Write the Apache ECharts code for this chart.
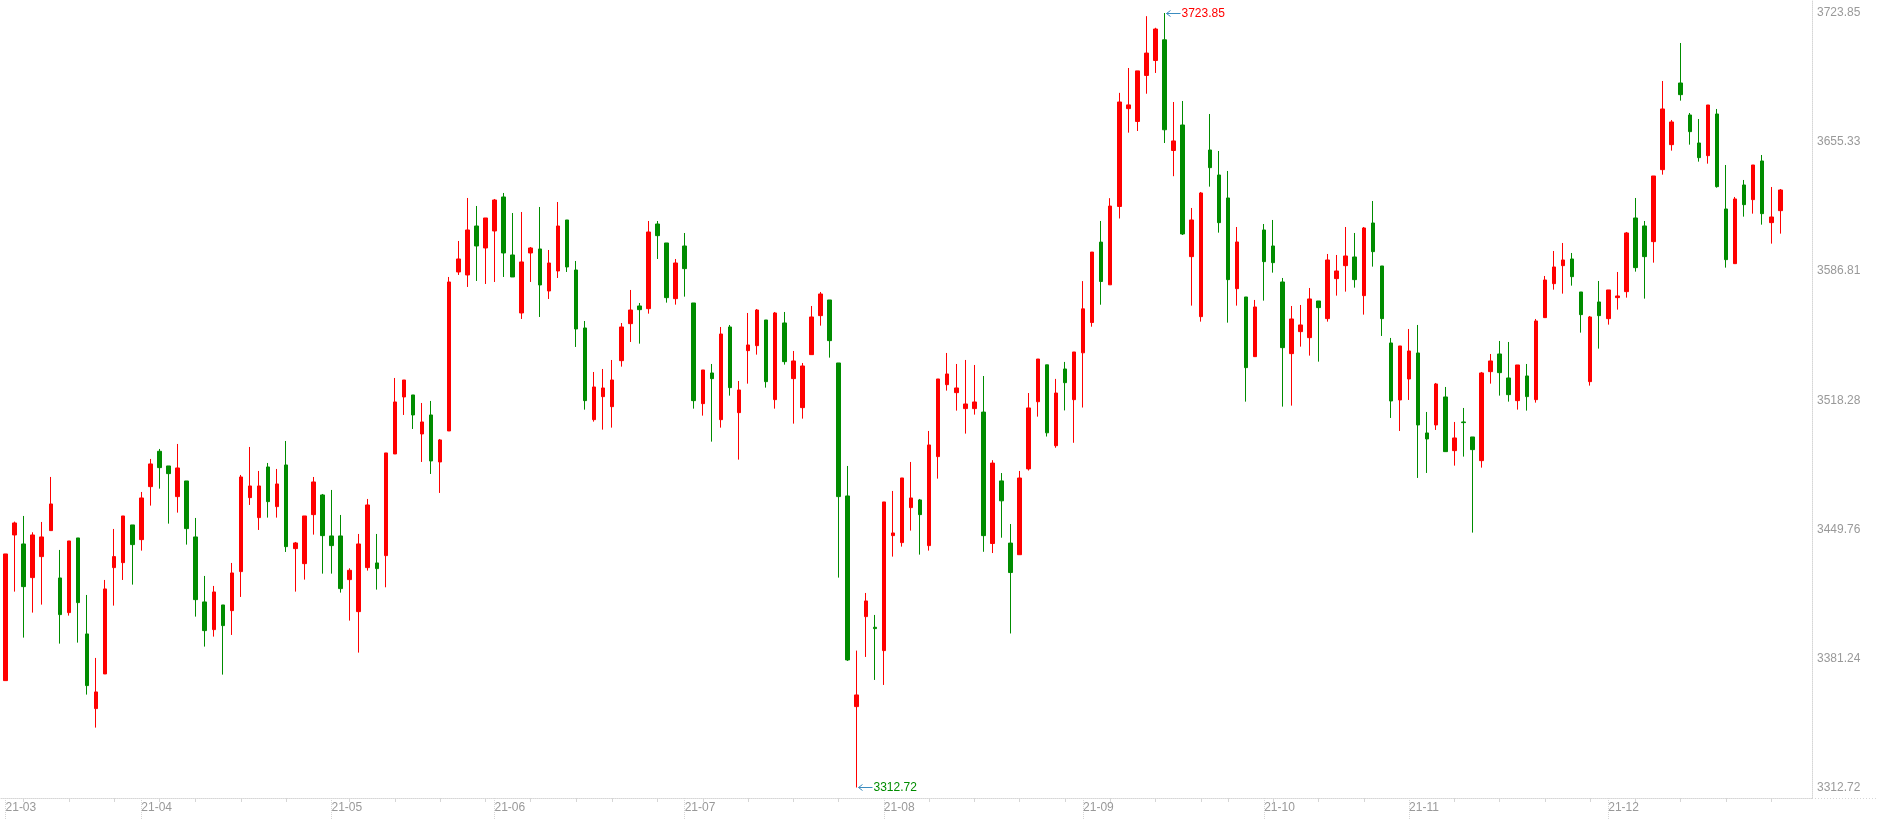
<!DOCTYPE html>
<html>
<head>
<meta charset="utf-8">
<style>
html,body{margin:0;padding:0;background:#fff;}
#chart{width:1877px;height:820px;}
</style>
<script src="https://cdn.jsdelivr.net/npm/echarts@6/dist/echarts.min.js"></script>
</head>
<body>
<div id="chart"></div>
<script>
const dates = [
"2021-03-11","2021-03-12","2021-03-15","2021-03-16","2021-03-17","2021-03-18","2021-03-19","2021-03-22","2021-03-23","2021-03-24","2021-03-25","2021-03-26","2021-03-29","2021-03-30","2021-03-31",
"2021-04-01","2021-04-02","2021-04-06","2021-04-07","2021-04-08","2021-04-09","2021-04-12","2021-04-13","2021-04-14","2021-04-15","2021-04-16","2021-04-19","2021-04-20","2021-04-21","2021-04-22","2021-04-23","2021-04-26","2021-04-27","2021-04-28","2021-04-29","2021-04-30",
"2021-05-06","2021-05-07","2021-05-10","2021-05-11","2021-05-12","2021-05-13","2021-05-14","2021-05-17","2021-05-18","2021-05-19","2021-05-20","2021-05-21","2021-05-24","2021-05-25","2021-05-26","2021-05-27","2021-05-28","2021-05-31",
"2021-06-01","2021-06-02","2021-06-03","2021-06-04","2021-06-07","2021-06-08","2021-06-09","2021-06-10","2021-06-11","2021-06-15","2021-06-16","2021-06-17","2021-06-18","2021-06-21","2021-06-22","2021-06-23","2021-06-24","2021-06-25","2021-06-28","2021-06-29","2021-06-30",
"2021-07-01","2021-07-02","2021-07-05","2021-07-06","2021-07-07","2021-07-08","2021-07-09","2021-07-12","2021-07-13","2021-07-14","2021-07-15","2021-07-16","2021-07-19","2021-07-20","2021-07-21","2021-07-22","2021-07-23","2021-07-26","2021-07-27","2021-07-28","2021-07-29","2021-07-30",
"2021-08-02","2021-08-03","2021-08-04","2021-08-05","2021-08-06","2021-08-09","2021-08-10","2021-08-11","2021-08-12","2021-08-13","2021-08-16","2021-08-17","2021-08-18","2021-08-19","2021-08-20","2021-08-23","2021-08-24","2021-08-25","2021-08-26","2021-08-27","2021-08-30","2021-08-31",
"2021-09-01","2021-09-02","2021-09-03","2021-09-06","2021-09-07","2021-09-08","2021-09-09","2021-09-10","2021-09-13","2021-09-14","2021-09-15","2021-09-16","2021-09-17","2021-09-22","2021-09-23","2021-09-24","2021-09-27","2021-09-28","2021-09-29","2021-09-30",
"2021-10-08","2021-10-11","2021-10-12","2021-10-13","2021-10-14","2021-10-15","2021-10-18","2021-10-19","2021-10-20","2021-10-21","2021-10-22","2021-10-25","2021-10-26","2021-10-27","2021-10-28","2021-10-29",
"2021-11-01","2021-11-02","2021-11-03","2021-11-04","2021-11-05","2021-11-08","2021-11-09","2021-11-10","2021-11-11","2021-11-12","2021-11-15","2021-11-16","2021-11-17","2021-11-18","2021-11-19","2021-11-22","2021-11-23","2021-11-24","2021-11-25","2021-11-26","2021-11-29","2021-11-30",
"2021-12-01","2021-12-02","2021-12-03","2021-12-06","2021-12-07","2021-12-08","2021-12-09","2021-12-10","2021-12-13","2021-12-14","2021-12-15","2021-12-16","2021-12-17","2021-12-20","2021-12-21","2021-12-22","2021-12-23","2021-12-24","2021-12-27","2021-12-28","2021-12-29","2021-12-30","2021-12-31"
];

const opens = [
3369.46,3446.78,3442.00,3424.13,3435.28,3449.08,3423.95,3405.55,3445.19,3394.23,3354.60,3373.00,3429.44,3432.09,3452.09,
3444.30,3472.43,3491.19,3483.40,3467.13,3475.44,3445.72,3411.22,3396.53,3409.62,3406.61,3427.32,3466.59,3455.98,3482.87,3461.82,3483.93,3439.52,3431.56,3457.57,3468.01,
3446.25,3446.25,3423.07,3406.08,3429.44,3431.92,3435.81,3489.77,3520.03,3521.09,3500.39,3510.48,3485.53,3501.98,3586.38,3584.79,3610.79,3599.12,
3608.14,3626.19,3595.40,3564.61,3596.46,3598.59,3576.29,3586.91,3613.98,3587.44,3556.65,3507.99,3520.20,3514.89,3539.31,3558.95,3568.33,3566.91,3611.85,3601.77,3572.22,
3600.17,3569.92,3516.49,3532.76,3507.99,3557.18,3511.71,3544.62,3547.27,3560.90,3518.61,3559.31,3529.76,3514.37,3542.50,3563.20,3571.51,3538.07,3467.48,3355.66,3403.43,3397.77,
3385.39,3446.43,3442.71,3461.29,3465.36,3441.12,3488.36,3526.57,3522.33,3513.84,3513.84,3512.00,3442.24,3475.47,3442.46,3436.30,3481.85,3517.50,3537.09,3494.17,3534.89,3518.60,
3543.47,3559.54,3602.23,3579.56,3621.15,3673.09,3666.27,3690.70,3698.62,3709.62,3650.86,3664.40,3594.52,3562.67,3651.13,3637.86,3625.66,3577.53,3573.11,3541.44,
3608.67,3600.18,3581.07,3543.03,3554.71,3551.52,3570.98,3561.61,3582.84,3589.74,3594.34,3573.82,3612.38,3589.56,3548.69,3518.44,
3529.58,3543.38,3500.92,3505.17,3520.03,3491.54,3506.76,3498.80,3486.23,3533.48,3542.85,3530.11,3518.08,3531.18,3518.61,3562.14,3580.18,3589.74,3593.28,3575.76,3528.17,3570.46,
3561.61,3572.76,3575.94,3615.04,3610.80,3602.48,3640.70,3653.97,3686.70,3669.71,3654.85,3648.13,3670.24,3619.82,3590.80,3632.56,3624.77,3645.30,3612.57,3618.93
];
const closes = [
3436.69,3453.15,3419.35,3446.78,3445.72,3463.23,3404.49,3443.59,3410.86,3366.81,3363.45,3418.12,3435.28,3456.86,3441.65,
3466.42,3484.47,3482.52,3479.33,3482.34,3450.14,3412.45,3396.00,3416.52,3398.65,3426.61,3477.56,3472.79,3472.79,3464.47,3473.85,3440.58,3442.53,3456.86,3474.91,3446.42,
3441.12,3418.29,3428.02,3442.00,3462.70,3428.91,3490.31,3517.38,3529.05,3510.48,3506.76,3486.06,3497.21,3581.07,3593.28,3608.67,3600.18,3615.04,
3624.59,3596.46,3583.72,3591.69,3599.12,3579.48,3591.15,3610.79,3589.03,3556.12,3518.08,3525.33,3524.80,3529.05,3557.18,3566.20,3566.38,3607.60,3605.66,3572.75,3591.15,
3588.14,3518.08,3534.36,3529.76,3553.46,3524.98,3523.74,3547.63,3566.20,3528.16,3564.61,3538.78,3539.14,3536.48,3562.49,3574.70,3549.93,3467.13,3380.43,3361.85,3411.75,3397.06,
3464.30,3447.84,3477.03,3466.42,3457.57,3494.55,3529.58,3532.24,3524.81,3516.31,3517.37,3446.42,3484.93,3464.90,3426.83,3477.01,3514.20,3540.17,3501.00,3522.12,3527.62,3543.91,
3566.80,3596.95,3581.32,3621.37,3676.61,3675.07,3693.12,3702.58,3715.35,3661.87,3655.93,3606.55,3613.98,3628.31,3641.76,3612.56,3582.31,3602.30,3535.60,3567.80,
3591.86,3591.33,3546.21,3561.43,3558.25,3572.05,3567.45,3592.75,3586.91,3594.87,3582.31,3609.73,3597.17,3561.61,3517.90,3547.10,
3544.44,3505.17,3497.74,3526.93,3491.01,3498.27,3506.41,3492.07,3532.77,3539.14,3532.94,3521.27,3537.01,3520.21,3560.37,3582.13,3589.03,3592.75,3583.90,3563.73,3562.49,3563.20,
3576.83,3573.64,3607.08,3588.68,3594.52,3637.34,3672.90,3666.00,3680.51,3660.87,3647.07,3675.02,3631.67,3592.93,3625.13,3622.12,3643.17,3617.34,3615.57,3629.90
];
const lows = [
3369.46,3416.70,3392.28,3405.55,3409.80,3449.08,3389.10,3403.96,3389.63,3362.03,3344.51,3373.00,3409.27,3422.89,3420.42,
3438.46,3462.35,3471.37,3452.79,3458.63,3441.65,3403.43,3387.51,3392.81,3372.64,3393.70,3413.87,3462.70,3449.43,3455.98,3455.98,3437.75,3416.70,3423.07,3446.95,3426.25,
3426.25,3416.17,3401.31,3384.32,3427.85,3417.76,3419.00,3489.77,3510.48,3503.04,3485.53,3479.16,3469.08,3501.98,3584.79,3578.42,3581.60,3580.01,
3581.07,3583.72,3583.72,3561.43,3581.07,3562.49,3572.05,3583.19,3586.38,3546.57,3513.30,3506.93,3502.69,3503.75,3536.13,3549.22,3548.33,3564.26,3593.27,3570.10,3569.03,
3573.28,3513.83,3510.12,3496.32,3503.75,3520.73,3486.76,3527.10,3542.50,3524.98,3513.83,3537.19,3505.87,3508.53,3542.50,3557.89,3540.91,3424.13,3379.90,3312.72,3382.02,3369.82,
3367.16,3435.28,3440.59,3449.08,3436.34,3438.46,3476.68,3523.39,3512.77,3500.57,3510.65,3437.84,3437.18,3445.32,3394.48,3436.30,3480.97,3509.58,3499.02,3493.07,3512.88,3495.71,
3514.42,3557.33,3569.00,3579.56,3614.77,3660.33,3661.21,3681.01,3692.02,3654.83,3637.22,3606.02,3568.51,3560.02,3631.67,3607.25,3559.48,3568.51,3517.55,3541.44,
3571.16,3586.02,3514.90,3515.43,3546.75,3541.97,3538.78,3560.02,3573.82,3575.94,3578.06,3563.73,3589.21,3552.41,3508.88,3501.98,
3518.44,3477.04,3479.69,3502.51,3491.01,3483.58,3488.36,3448.02,3482.52,3527.11,3520.74,3517.55,3513.31,3512.77,3517.02,3562.14,3577.00,3574.88,3579.12,3554.18,3526.05,3545.69,
3558.42,3566.39,3572.76,3586.56,3572.23,3591.33,3638.04,3650.78,3677.32,3653.97,3644.94,3643.88,3631.14,3588.68,3590.80,3615.75,3617.34,3611.50,3601.42,3606.73
];
const highs = [
3436.69,3453.86,3456.86,3448.20,3453.68,3477.57,3438.82,3443.59,3445.19,3414.93,3381.49,3422.89,3449.96,3456.86,3452.09,
3469.60,3487.12,3492.43,3483.40,3495.08,3475.44,3455.80,3425.02,3419.71,3409.62,3431.92,3478.63,3493.49,3480.75,3484.99,3481.81,3496.67,3443.06,3456.86,3477.56,3468.54,
3470.66,3457.39,3429.08,3447.31,3465.89,3447.31,3490.31,3530.11,3529.05,3521.09,3516.84,3517.91,3497.74,3583.72,3602.83,3625.66,3621.41,3615.04,
3625.13,3628.31,3617.69,3618.22,3599.65,3620.88,3598.05,3623.53,3613.98,3592.22,3560.36,3533.29,3534.89,3539.66,3559.30,3576.82,3569.92,3613.44,3613.44,3601.77,3593.27,
3607.07,3569.92,3534.36,3537.54,3557.18,3558.24,3528.52,3564.61,3566.73,3560.90,3565.14,3565.14,3544.44,3538.07,3568.33,3575.76,3571.51,3538.07,3483.40,3385.39,3415.99,3404.32,
3464.30,3470.13,3477.03,3485.53,3465.89,3501.98,3529.58,3543.38,3537.54,3539.67,3537.01,3531.15,3486.47,3479.65,3452.58,3480.75,3522.12,3540.17,3537.09,3529.61,3538.63,3543.91,
3581.54,3596.95,3613.45,3625.56,3681.45,3694.66,3693.12,3722.17,3716.01,3723.85,3676.61,3677.14,3620.35,3628.84,3670.24,3650.60,3639.99,3610.26,3573.11,3571.52,
3611.85,3613.98,3583.19,3568.33,3568.86,3577.88,3570.98,3595.93,3595.40,3610.26,3607.08,3610.26,3624.06,3589.56,3551.35,3547.10,
3556.12,3558.25,3512.07,3527.46,3525.34,3506.76,3514.19,3498.80,3533.30,3542.85,3549.75,3549.22,3537.01,3537.54,3561.43,3584.25,3597.52,3601.77,3596.46,3575.76,3563.02,3581.60,
3576.83,3586.38,3607.61,3625.66,3613.45,3637.34,3687.76,3667.06,3707.93,3670.77,3667.59,3675.02,3672.90,3643.17,3626.19,3635.21,3643.17,3648.48,3631.50,3630.43
];
const yTickLabels = [3312.72, 3381.24, 3449.76, 3518.28, 3586.81, 3655.33, 3723.85];

const UP = '#ff0000';
const DOWN = '#008c00';
const ARROW = '#3a8cc0';
const AXIS_C = '#d6d6d6';
const LABEL_C = '#999999';
const FONT = "'Liberation Sans', Arial, sans-serif";

const candles = opens.map((o, i) => [o, closes[i], lows[i], highs[i]]);

let hi = -Infinity, lo = Infinity, hiIdx = 0, loIdx = 0;
highs.forEach((v, i) => { if (v > hi) { hi = v; hiIdx = i; } });
lows.forEach((v, i) => { if (v < lo) { lo = v; loIdx = i; } });
const span = hi - lo;
const yMax = hi + span * 13 / 774.5;
const yMin = lo - span * 10.5 / 774.5;

const monthStart = dates.map((d, i) => i === 0 || d.slice(0, 7) !== dates[i - 1].slice(0, 7));
const weekStart = dates.map((d, i) => {
  if (i === 0) return false;
  const a = new Date(dates[i - 1] + 'T00:00:00Z'), b = new Date(d + 'T00:00:00Z');
  return b.getUTCDay() < a.getUTCDay() || (b - a) >= 7 * 86400000;
});

const chart = echarts.init(document.getElementById('chart'), null, { renderer: 'canvas' });
chart.setOption({
  animation: false,
  backgroundColor: '#ffffff',
  textStyle: { fontFamily: FONT },
  grid: { left: 1, right: 65, top: 0, bottom: 22, containLabel: false },
  xAxis: [{
    type: 'category',
    data: dates,
    boundaryGap: true,
    axisLine: { show: true, lineStyle: { color: AXIS_C, type: 'dotted', width: 1 } },
    axisTick: { show: true, alignWithLabel: true, interval: (i) => monthStart[i], length: 22, lineStyle: { color: AXIS_C, type: 'dotted' } },
    axisLabel: { show: true, interval: (i) => monthStart[i], formatter: (v) => v.slice(2, 7), align: 'left', color: LABEL_C, fontSize: 12, margin: 4, fontFamily: FONT },
    splitLine: { show: false }
  }, {
    type: 'category',
    data: dates,
    boundaryGap: true,
    position: 'bottom',
    axisLine: { show: false },
    axisTick: { show: true, alignWithLabel: true, interval: (i) => weekStart[i] && !monthStart[i], length: 4, lineStyle: { color: AXIS_C } },
    axisLabel: { show: false },
    splitLine: { show: false }
  }],
  yAxis: {
    type: 'value',
    position: 'right',
    min: yMin,
    max: yMax,
    axisLine: { show: true, lineStyle: { color: AXIS_C, type: 'dotted' } },
    axisTick: { show: false },
    splitLine: { show: false },
    axisLabel: { customValues: yTickLabels, formatter: (v) => Number(v).toFixed(2), color: LABEL_C, fontSize: 12, margin: 5, fontFamily: FONT }
  },
  graphic: [{
    type: 'line',
    shape: { x1: 1812, y1: 798.5, x2: 1877, y2: 798.5 },
    style: { stroke: AXIS_C, lineWidth: 1, lineDash: [1, 2] },
    silent: true
  }],
  series: [{
    type: 'candlestick',
    data: candles,
    barWidth: 4,
    itemStyle: { color: UP, color0: DOWN, borderColor: UP, borderColor0: DOWN, borderWidth: 1 }
  }, {
    type: 'custom',
    data: [[hiIdx, hi, 1], [loIdx, lo, 0]],
    encode: { x: 0, y: 1 },
    z: 10,
    clip: false,
    silent: true,
    renderItem: function (params, api) {
      const p = api.coord([api.value(0), api.value(1)]);
      const isMax = api.value(2) === 1;
      const x = Math.round(p[0]) + 0.5, y = Math.round(p[1]) + 0.5;
      return {
        type: 'group',
        children: [
          { type: 'line', shape: { x1: x + 1, y1: y, x2: x + 15, y2: y }, style: { stroke: ARROW, lineWidth: 1 } },
          { type: 'polyline', shape: { points: [[x + 5, y - 3], [x + 1, y], [x + 5, y + 3]] }, style: { stroke: ARROW, fill: null, lineWidth: 1 } },
          { type: 'text', x: x + 16, y: y, style: { text: api.value(1).toFixed(2), fill: isMax ? UP : DOWN, font: '12px ' + FONT, align: 'left', verticalAlign: 'middle' } }
        ]
      };
    }
  }]
});
</script>
</body>
</html>
